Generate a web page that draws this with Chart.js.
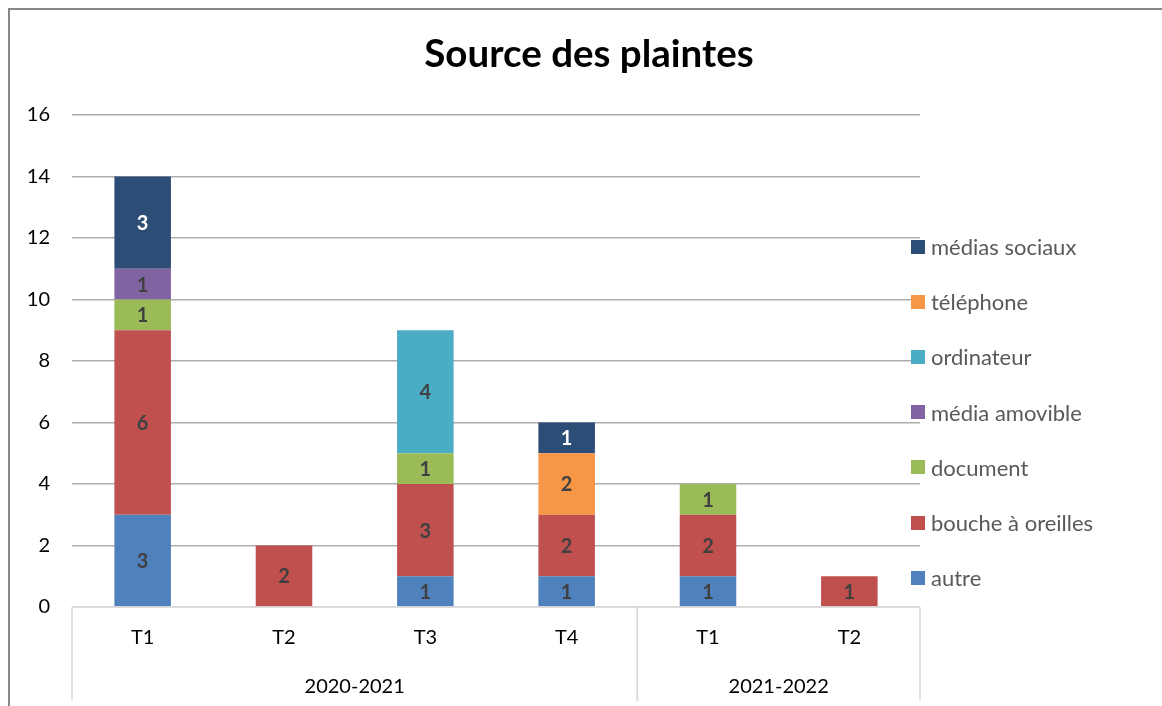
<!DOCTYPE html>
<html>
<head>
<meta charset="utf-8">
<script src="https://cdn.jsdelivr.net/npm/chart.js@4"></script>
<style>
  body { margin: 0; overflow: hidden; background: #fff; }
  #wrap { position: relative; width: 1162px; height: 706px; }
  #frame { position: absolute; left: 8px; top: 8px; width: 1200px; height: 800px;
           border-left: 2px solid #868686; border-top: 2px solid #868686; pointer-events: none; }
  #title { position: absolute; left: 8px; top: 29px; width: 1162px; text-align: center;
           font-family: Lato, sans-serif; font-weight: bold; font-size: 38.5px; line-height: 1.2;
           color: #000; white-space: nowrap; }
  #legend { position: absolute; left: 911px; top: 219px; font-family: Lato, sans-serif;
            font-size: 22px; color: #595959; }
  #legend .item { height: 55.2px; display: flex; align-items: center; white-space: nowrap; }
  #legend .box { width: 14px; height: 14px; margin-right: 6px; }
</style>
</head>
<body>
<div id="wrap">
  <canvas id="chart" width="1162" height="706"></canvas>
  <div id="frame"></div>
  <div id="title">Source des plaintes</div>
  <div id="legend"></div>
</div>
<script>
// categories
const quarters = ['T1', 'T2', 'T3', 'T4', 'T1', 'T2'];
const groupLabels = ['2020-2021', '2021-2022'];
const groupSizes = [4, 2];

// series values (one per quarter)
const autre = [3, 0, 1, 1, 1, 0];
const boucheAOreilles = [6, 2, 3, 2, 2, 1];
const documentSrc = [1, 0, 1, 0, 1, 0];
const mediaAmovible = [1, 0, 0, 0, 0, 0];
const ordinateur = [0, 0, 4, 0, 0, 0];
const telephone = [0, 0, 0, 2, 0, 0];
const mediasSociaux = [3, 0, 0, 1, 0, 0];

const seriesNames = ['autre', 'bouche à oreilles', 'document', 'média amovible', 'ordinateur', 'téléphone', 'médias sociaux'];
const seriesValues = [autre, boucheAOreilles, documentSrc, mediaAmovible, ordinateur, telephone, mediasSociaux];
const seriesColors = ['#4F81BD', '#C0504D', '#9BBB59', '#8064A2', '#4BACC6', '#F79646', '#2C4D75'];
const labelColors = ['#404040', '#404040', '#404040', '#404040', '#404040', '#404040', '#FFFFFF'];

// y tick labels
const yTicks = [0, 2, 4, 6, 8, 10, 12, 14, 16];

const datasets = seriesNames.map((name, i) => ({
    label: name,
    data: seriesValues[i].map(v => v === 0 ? null : v),
    backgroundColor: seriesColors[i],
    borderWidth: 0,
    categoryPercentage: 0.4,
    barPercentage: 1
}));

// Value labels in the middle of each segment
const valueLabels = {
    id: 'valueLabels',
    afterDatasetsDraw(chart) {
        const ctx = chart.ctx;
        ctx.save();
        ctx.font = 'bold 20px Lato';
        ctx.textAlign = 'center';
        ctx.textBaseline = 'middle';
        chart.data.datasets.forEach((ds, i) => {
            chart.getDatasetMeta(i).data.forEach((bar, j) => {
                const v = ds.data[j];
                if (!v) return;
                ctx.fillStyle = labelColors[i];
                ctx.fillText(String(v), bar.x, (bar.y + bar.base) / 2 + 1);
            });
        });
        ctx.restore();
    }
};

// Grouped year labels and dividers under the quarters
const groupAxis = {
    id: 'groupAxis',
    afterDraw(chart) {
        const { ctx, chartArea, scales: { x } } = chart;
        const half = (x.getPixelForValue(1) - x.getPixelForValue(0)) / 2;
        ctx.save();
        ctx.strokeStyle = '#D9D9D9';
        ctx.lineWidth = 1.5;
        ctx.beginPath();
        ctx.moveTo(chartArea.left, chartArea.bottom);
        ctx.lineTo(chartArea.right, chartArea.bottom);
        ctx.stroke();
        ctx.font = '20px Lato';
        ctx.fillStyle = '#000';
        ctx.textAlign = 'center';
        ctx.textBaseline = 'middle';
        let start = 0;
        groupLabels.forEach((label, g) => {
            const left = x.getPixelForValue(start) - half;
            const right = x.getPixelForValue(start + groupSizes[g] - 1) + half;
            ctx.beginPath();
            ctx.moveTo(left, chartArea.bottom);
            ctx.lineTo(left, 701);
            ctx.moveTo(right, chartArea.bottom);
            ctx.lineTo(right, 701);
            ctx.stroke();
            ctx.fillText(label, (left + right) / 2, 687);
            start += groupSizes[g];
        });
        ctx.restore();
    }
};

new Chart(document.getElementById('chart'), {
    type: 'bar',
    data: { labels: quarters, datasets },
    plugins: [valueLabels, groupAxis],
    options: {
        responsive: false,
        animation: false,
        layout: { padding: { left: 0, right: 242, top: 115, bottom: 0 } },
        plugins: {
            legend: { display: false },
            tooltip: { enabled: false },
            title: { display: false }
        },
        scales: {
            x: {
                stacked: true,
                grid: { display: false, drawTicks: false },
                border: { display: false },
                ticks: { color: '#000', font: { family: 'Lato', size: 20 }, padding: 19 },
                afterFit(scale) { scale.height = 99; }
            },
            y: {
                stacked: true,
                min: 0,
                max: 16,
                afterBuildTicks(scale) { scale.ticks = yTicks.map(v => ({ value: v })); },
                grid: {
                    drawTicks: false,
                    color: c => c.tick && c.tick.value === 0 ? '#D9D9D9' : '#ADADAD',
                    lineWidth: 1.5
                },
                border: { display: false },
                ticks: { color: '#000', font: { family: 'Lato', size: 20 }, padding: 22 },
                afterFit(scale) { scale.width = 72; }
            }
        }
    }
});

// Legend, listed top to bottom in reverse series order
const legend = document.getElementById('legend');
for (let i = seriesNames.length - 1; i >= 0; i--) {
    const item = document.createElement('div');
    item.className = 'item';
    const box = document.createElement('span');
    box.className = 'box';
    box.style.background = seriesColors[i];
    const text = document.createElement('span');
    text.textContent = seriesNames[i];
    item.appendChild(box);
    item.appendChild(text);
    legend.appendChild(item);
}
</script>
</body>
</html>
